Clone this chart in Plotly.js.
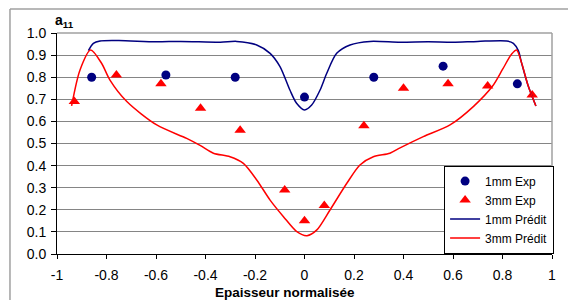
<!DOCTYPE html>
<html><head><meta charset="utf-8">
<script src="https://cdn.plot.ly/plotly-3.0.1.min.js"></script>
<style>html,body{margin:0;padding:0;background:#fff}#chart{width:568px;height:300px}</style>
</head><body><div id="chart"></div>
<script>
// Experimental points
const exp1mmX = [-0.86, -0.56, -0.28, 0.0, 0.28, 0.56, 0.86];
const exp1mmY = [0.80, 0.81, 0.80, 0.71, 0.80, 0.85, 0.77];
const exp3mmX = [-0.93, -0.76, -0.58, -0.42, -0.26, -0.08, 0.0, 0.08, 0.24, 0.40, 0.58, 0.74, 0.92];
const exp3mmY = [0.69, 0.81, 0.77, 0.66, 0.56, 0.29, 0.15, 0.22, 0.58, 0.75, 0.77, 0.76, 0.72];
// Predicted curves
const pred1mmX = [-0.873, -0.853, -0.826, -0.75, -0.6, -0.5, -0.34, -0.274, -0.193, -0.139, -0.099, -0.059, -0.032, 0.0, 0.029, 0.063, 0.09, 0.13, 0.184, 0.265, 0.386, 0.5, 0.6, 0.7, 0.817, 0.844, 0.864, 0.877, 0.904, 0.935];
const pred1mmY = [0.92, 0.953, 0.964, 0.966, 0.96, 0.962, 0.958, 0.962, 0.946, 0.908, 0.848, 0.742, 0.682, 0.652, 0.674, 0.742, 0.818, 0.908, 0.946, 0.962, 0.958, 0.96, 0.958, 0.962, 0.964, 0.953, 0.92, 0.865, 0.76, 0.67];
const pred3mmX = [-0.941, -0.907, -0.864, -0.82, -0.786, -0.718, -0.597, -0.476, -0.42, -0.368, -0.301, -0.247, -0.193, -0.139, -0.085, -0.031, 0.01, 0.05, 0.103, 0.171, 0.224, 0.278, 0.345, 0.386, 0.48, 0.588, 0.682, 0.76, 0.80, 0.837, 0.857, 0.877, 0.904, 0.935];
const pred3mmY = [0.67, 0.833, 0.923, 0.863, 0.787, 0.69, 0.584, 0.523, 0.49, 0.456, 0.44, 0.41, 0.335, 0.244, 0.169, 0.101, 0.083, 0.109, 0.199, 0.32, 0.403, 0.44, 0.456, 0.48, 0.531, 0.584, 0.667, 0.76, 0.835, 0.905, 0.923, 0.865, 0.76, 0.67];
// Ticks
const xTickVals = [-1, -0.8, -0.6, -0.4, -0.2, 0, 0.2, 0.4, 0.6, 0.8, 1];
const xTickText = ["-1", "-0.8", "-0.6", "-0.4", "-0.2", "0", "0.2", "0.4", "0.6", "0.8", "1"];
const yTickVals = [0, 0.1, 0.2, 0.3, 0.4, 0.5, 0.6, 0.7, 0.8, 0.9, 1.0];
const yTickText = ["0.0", "0.1", "0.2", "0.3", "0.4", "0.5", "0.6", "0.7", "0.8", "0.9", "1.0"];

const FONT = "Liberation Sans, Arial, sans-serif";
const NAVY = "#000080", RED = "#ff0000";

const traces = [
  {x: exp1mmX, y: exp1mmY, mode: "markers", name: "1mm Exp", type: "scatter",
   marker: {symbol: "circle", size: 9, color: NAVY}},
  {x: exp3mmX, y: exp3mmY, mode: "markers", name: "3mm Exp", type: "scatter",
   marker: {symbol: "triangle-up", size: 10, color: RED}},
  {x: pred1mmX, y: pred1mmY, mode: "lines", name: "1mm Prédit", type: "scatter",
   line: {color: NAVY, width: 1.5, shape: "spline", smoothing: 0.8}},
  {x: pred3mmX, y: pred3mmY, mode: "lines", name: "3mm Prédit", type: "scatter",
   line: {color: RED, width: 1.5, shape: "spline", smoothing: 0.8}}
];

const layout = {
  width: 568, height: 300,
  margin: {l: 57, r: 16, t: 33, b: 46, pad: 0},
  paper_bgcolor: "#fff", plot_bgcolor: "#fff",
  font: {family: FONT, size: 14, color: "#000"},
  showlegend: true,
  legend: {x: 0.782, y: 0.40, xanchor: "left", yanchor: "top",
    bgcolor: "#fff", bordercolor: "#000", borderwidth: 1,
    font: {family: FONT, size: 12, color: "#000"}, itemwidth: 30, tracegroupgap: 0},
  xaxis: {range: [-1, 1], tickvals: xTickVals, ticktext: xTickText,
    showgrid: false, zeroline: false, showline: true, linecolor: "#000", linewidth: 1,
    ticks: "outside", ticklen: 4, tickcolor: "#000", tickfont: {size: 14},
    ticklabelstandoff: 4, fixedrange: true},
  yaxis: {range: [0, 1], tickvals: yTickVals, ticktext: yTickText,
    showgrid: true, gridcolor: "#858585", gridwidth: 1, zeroline: false,
    showline: true, linecolor: "#000", linewidth: 1,
    ticks: "outside", ticklen: 5, tickcolor: "#000", tickfont: {size: 14},
    ticklabelstandoff: 2, fixedrange: true},
  shapes: [
    {type: "line", xref: "paper", yref: "paper", x0: 0, x1: 1, y0: 1, y1: 1, line: {color: "#a0a0a0", width: 1.5}},
    {type: "line", xref: "paper", yref: "paper", x0: 1, x1: 1, y0: 0, y1: 1, line: {color: "#a0a0a0", width: 1.5}},
    {type: "line", xref: "paper", yref: "paper", x0: -0.095, x1: 1.05, y0: 1.109, y1: 1.109, line: {color: "#a0a0a0", width: 1.5}},
    {type: "line", xref: "paper", yref: "paper", x0: -0.095, x1: -0.095, y0: -0.3, y1: 1.109, line: {color: "#a0a0a0", width: 1.5}}
  ],
  annotations: [
    {text: "<b>a<sub>11</sub></b>", xref: "paper", yref: "paper", x: -0.008, y: 1.054,
     xanchor: "left", yanchor: "middle", showarrow: false, font: {family: FONT, size: 14}},
    {text: "<b>Epaisseur normalisée</b>", xref: "paper", yref: "paper", x: 0.4616, y: -0.175,
     xanchor: "center", yanchor: "middle", showarrow: false, font: {family: FONT, size: 13.5}}
  ]
};

Plotly.newPlot("chart", traces, layout, {displayModeBar: false, staticPlot: true});
</script></body></html>
